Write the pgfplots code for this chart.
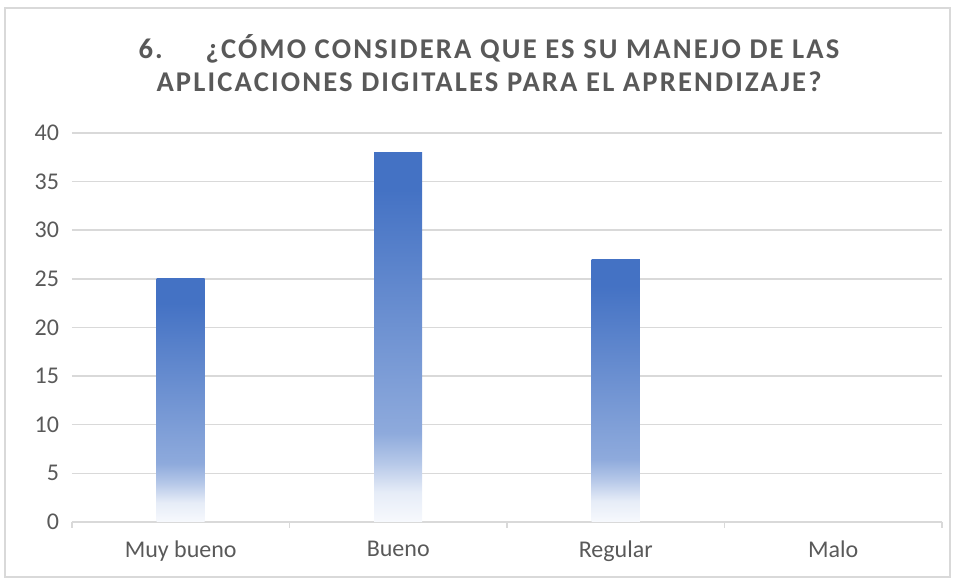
\documentclass[border=0pt]{standalone}
\usepackage{pgfplots}
\pgfplotsset{compat=1.18}
\usepackage{fontspec}
\setmainfont{Carlito}
\definecolor{txt}{HTML}{595959}
\definecolor{gridc}{HTML}{D9D9D9}
\definecolor{barA}{HTML}{4472C4}
\definecolor{barB}{HTML}{8EAADC}
\definecolor{barC}{HTML}{F7F9FD}
\pgfdeclareverticalshading{barshade}{100bp}{color(0bp)=(barC); color(25bp)=(barC); color(29bp)=(barB!22!white); color(33bp)=(barB!65!white); color(37bp)=(barB); color(70bp)=(barA); color(100bp)=(barA)}
\begin{document}
\begin{tikzpicture}
\useasboundingbox (-36bp,-29bp) rectangle (441.5bp,261bp);
\draw[gridc, line width=0.6bp] (-33.5bp,-27.5bp) rectangle (439bp,257bp);
\begin{axis}[
  at={(0,0)}, anchor=south west,
  scale only axis, width=435bp, height=194.5bp,
  xmin=-0.5, xmax=3.5, ymin=0, ymax=40,
  ytick={0,5,...,40},
  xtick={0,1,2,3},
  xticklabels={Muy bueno,Bueno,Regular,Malo},
  minor xtick={-0.5,0.5,1.5,2.5,3.5},
  major tick length=0pt,
  minor tick length=2.8bp,
  tick align=outside,
  minor tick style={gridc, line width=0.8bp},
  axis x line*=bottom,
  axis y line*=left,
  x axis line style={gridc, line width=0.9bp, -},
  y axis line style={draw=none},
  ymajorgrids,
  grid style={gridc, line width=0.75bp},
  ticklabel style={font=\fontsize{12bp}{14bp}\selectfont, text=txt},
  yticklabel style={xshift=-3bp},
  xticklabel style={yshift=-6bp},
  ytick style={draw=none},
  /pgf/number format/assume math mode=true,
  clip=false,
  barst/.style={ybar, bar width=24bp, bar shift=0pt, draw=none, shading=barshade, mark=none},
]
\addplot[barst] coordinates {(0,25)};
\addplot[barst] coordinates {(1,38)};
\addplot[barst] coordinates {(2,27)};
\addplot[barst] coordinates {(3,0)};
\end{axis}
\node[text=txt, font=\fontsize{14.3bp}{16.5bp}\selectfont\bfseries\addfontfeature{LetterSpace=7.5}, align=center] at (208.5bp,229.5bp)
  {6.\hspace{1.5em}¿CÓMO CONSIDERA QUE ES SU MANEJO DE LAS\\APLICACIONES DIGITALES PARA EL APRENDIZAJE?};
\end{tikzpicture}
\end{document}
